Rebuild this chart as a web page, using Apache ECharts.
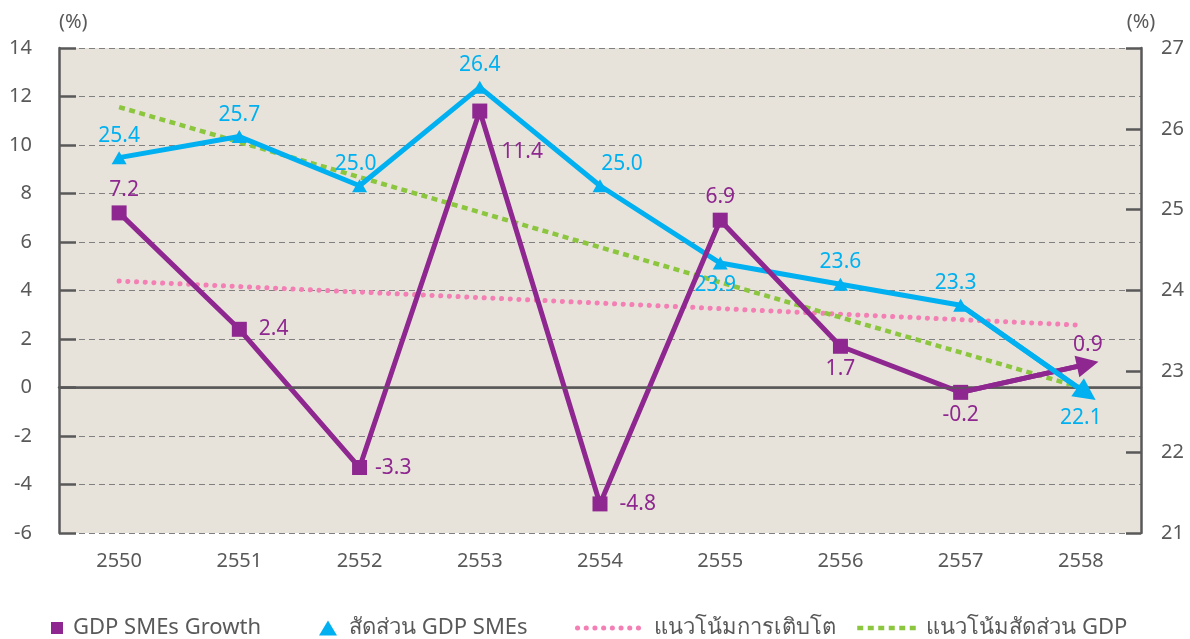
<!DOCTYPE html>
<html>
<head>
<meta charset="utf-8">
<title>GDP SMEs</title>
<script src="https://cdn.jsdelivr.net/npm/echarts@6/dist/echarts.min.js"></script>
<style>
  html, body { margin: 0; padding: 0; background: #ffffff; }
  #chart { width: 1190px; height: 639px; }
</style>
</head>
<body>
<div id="chart"></div>
<script>
// data
const years = ['2550', '2551', '2552', '2553', '2554', '2555', '2556', '2557', '2558']
const growth = [7.2, 2.4, -3.3, 11.4, -4.8, 6.9, 1.7, -0.2, 0.9]
const share = [25.4, 25.7, 25.0, 26.4, 25.0, 23.9, 23.6, 23.3, 22.1]
// trend lines: only the two ends are given, the line joins them
const growthTrend = [4.39, null, null, null, null, null, null, null, 2.57]
const shareTrend = [26.12, null, null, null, null, null, null, null, 22.13]
const leftTicks = { min: -6, max: 14, step: 2 }
const rightTicks = { min: 21, max: 27, step: 1 }

const names = ['GDP SMEs Growth', 'สัดส่วน GDP SMEs', 'แนวโน้มการเติบโต', 'แนวโน้มสัดส่วน GDP']

const PURPLE = '#8e278f'
const CYAN = '#00b0f0'
const PINK = '#f37fb4'
const GREEN = '#8cc63f'
const GRAY = '#595959'
const FONT = 'Tahoma, "Noto Sans", "DejaVu Sans", sans-serif'

const pinkLine = { color: PINK, width: 5, type: [0.1, 8.6], cap: 'round' }
const greenLine = { color: GREEN, width: 4.5, type: [6, 4.5], cap: 'butt' }

// where each value label sits
const growthLabelPlace = [
    { position: 'top', offset: [5, 0] },
    { position: 'right', distance: 12 },
    { position: 'right', distance: 8 },
    { position: 'right', offset: [9, 41] },
    { position: 'right', distance: 12 },
    { position: 'top' },
    { position: 'bottom' },
    { position: 'bottom' },
    { position: 'top', offset: [7, -5] }
]
const shareLabelPlace = [
    { position: 'top' },
    { position: 'top' },
    { position: 'top', offset: [-4, 0] },
    { position: 'top' },
    { position: 'top', offset: [22, 0] },
    { position: 'bottom', offset: [-5, 0] },
    { position: 'top' },
    { position: 'top', offset: [-5, 0] },
    { position: 'bottom', offset: [0, 12] }
]

function withLabels(values, place, color) {
    const last = values.length - 1
    return values.map((v, i) => {
        const item = { value: v, label: Object.assign({ show: true, color: color }, place[i]) }
        if (i === last) {
            // the end carries an arrow (markLine) instead of a marker
            item.symbol = 'circle'
            item.symbolSize = 1
        }
        return item
    })
}

function arrowTo(values, color) {
    return {
        silent: true,
        symbol: ['none', 'triangle'],
        symbolSize: 22,
        symbolOffset: [[0, 0], [0, -7]],
        label: { show: false },
        lineStyle: { color: color, width: 5, type: 'solid' },
        itemStyle: { color: color },
        data: [[
            { coord: [years.length - 2, values[values.length - 2]] },
            { coord: [years.length - 1, values[values.length - 1]] }
        ]]
    }
}

const legendText = { fontSize: 22, color: GRAY, fontFamily: FONT }

const chart = echarts.init(document.getElementById('chart'), null, { renderer: 'canvas' })

chart.setOption({
    animation: false,
    textStyle: { fontFamily: FONT },
    grid: {
        left: 59,
        right: 49,
        top: 48,
        bottom: 106,
        show: true,
        backgroundColor: '#e7e3da',
        borderWidth: 0
    },
    legend: [
        {
            data: [{ name: names[0], icon: 'rect' }],
            left: 46, top: 612, itemWidth: 12, itemHeight: 12,
            textStyle: Object.assign({ padding: [0, 0, 0, 5] }, legendText)
        },
        {
            data: [{ name: names[1], icon: 'triangle' }],
            left: 314, top: 612, itemWidth: 18, itemHeight: 15,
            textStyle: Object.assign({ padding: [0, 0, 0, 7] }, legendText)
        },
        {
            data: [{ name: names[2], itemStyle: { opacity: 0 } }],
            left: 570, top: 612, itemWidth: 66, itemHeight: 16,
            lineStyle: pinkLine,
            textStyle: Object.assign({ padding: [0, 0, 0, 5] }, legendText)
        },
        {
            data: [{ name: names[3], itemStyle: { opacity: 0 } }],
            left: 850, top: 612, itemWidth: 61, itemHeight: 16,
            lineStyle: greenLine,
            textStyle: Object.assign({ padding: [0, 0, 0, 3] }, legendText)
        }
    ],
    xAxis: {
        type: 'category',
        data: years,
        boundaryGap: true,
        axisLine: { lineStyle: { color: GRAY, width: 2.5 } },
        axisTick: { inside: true, length: 12, alignWithLabel: true, lineStyle: { color: GRAY, width: 2.5 } },
        axisLabel: { color: GRAY, fontSize: 20, margin: 18, fontFamily: FONT },
        splitLine: { show: false }
    },
    yAxis: [
        {
            type: 'value',
            min: leftTicks.min,
            max: leftTicks.max,
            interval: leftTicks.step,
            name: '(%)',
            nameLocation: 'end',
            nameGap: 16,
            nameTextStyle: { color: GRAY, fontSize: 20, align: 'left', fontFamily: FONT },
            axisLine: { show: true, lineStyle: { color: GRAY, width: 2.5 } },
            axisTick: { show: true, inside: true, length: 17, lineStyle: { color: GRAY, width: 2.5 } },
            axisLabel: { color: GRAY, fontSize: 20, margin: 27, fontFamily: FONT },
            splitLine: { show: true, lineStyle: { color: '#808080', width: 1.2, type: [6, 4] } }
        },
        {
            type: 'value',
            min: rightTicks.min,
            max: rightTicks.max,
            interval: rightTicks.step,
            position: 'right',
            name: '(%)',
            nameLocation: 'end',
            nameGap: 16,
            nameTextStyle: { color: GRAY, fontSize: 20, fontFamily: FONT },
            axisLine: { show: true, lineStyle: { color: GRAY, width: 2.5 } },
            axisTick: { show: true, inside: true, length: 15, lineStyle: { color: GRAY, width: 2.5 } },
            axisLabel: { color: GRAY, fontSize: 20, margin: 20, fontFamily: FONT },
            splitLine: { show: false }
        },
        {
            // the share line in the picture is drawn on its own scale
            type: 'value',
            show: false,
            min: 20.06,
            max: 26.96,
            splitLine: { show: false }
        }
    ],
    series: [
        {
            name: names[2],
            type: 'line',
            yAxisIndex: 0,
            data: growthTrend,
            connectNulls: true,
            symbol: 'none',
            lineStyle: pinkLine,
            itemStyle: { color: PINK },
            z: 2,
            markLine: {
                silent: true,
                symbol: ['none', 'none'],
                label: { show: false },
                lineStyle: { color: GRAY, width: 1.5, type: 'solid' },
                data: [{ yAxis: 0 }]
            }
        },
        {
            name: names[3],
            type: 'line',
            yAxisIndex: 2,
            data: shareTrend,
            connectNulls: true,
            symbol: 'none',
            lineStyle: greenLine,
            itemStyle: { color: GREEN },
            z: 2
        },
        {
            name: names[0],
            type: 'line',
            yAxisIndex: 0,
            data: withLabels(growth, growthLabelPlace, PURPLE),
            symbol: 'rect',
            symbolSize: 15,
            lineStyle: { color: PURPLE, width: 5 },
            itemStyle: { color: PURPLE },
            label: { fontSize: 21, fontFamily: FONT },
            z: 4,
            markLine: arrowTo(growth, PURPLE)
        },
        {
            name: names[1],
            type: 'line',
            yAxisIndex: 2,
            data: withLabels(share, shareLabelPlace, CYAN),
            symbol: 'triangle',
            symbolSize: [15, 13],
            lineStyle: { color: CYAN, width: 5 },
            itemStyle: { color: CYAN },
            label: { fontSize: 21, fontFamily: FONT, formatter: p => p.value.toFixed(1) },
            z: 3,
            markLine: arrowTo(share, CYAN)
        }
    ]
})

window.onresize = function () {
    chart.resize()
}
</script>
</body>
</html>
